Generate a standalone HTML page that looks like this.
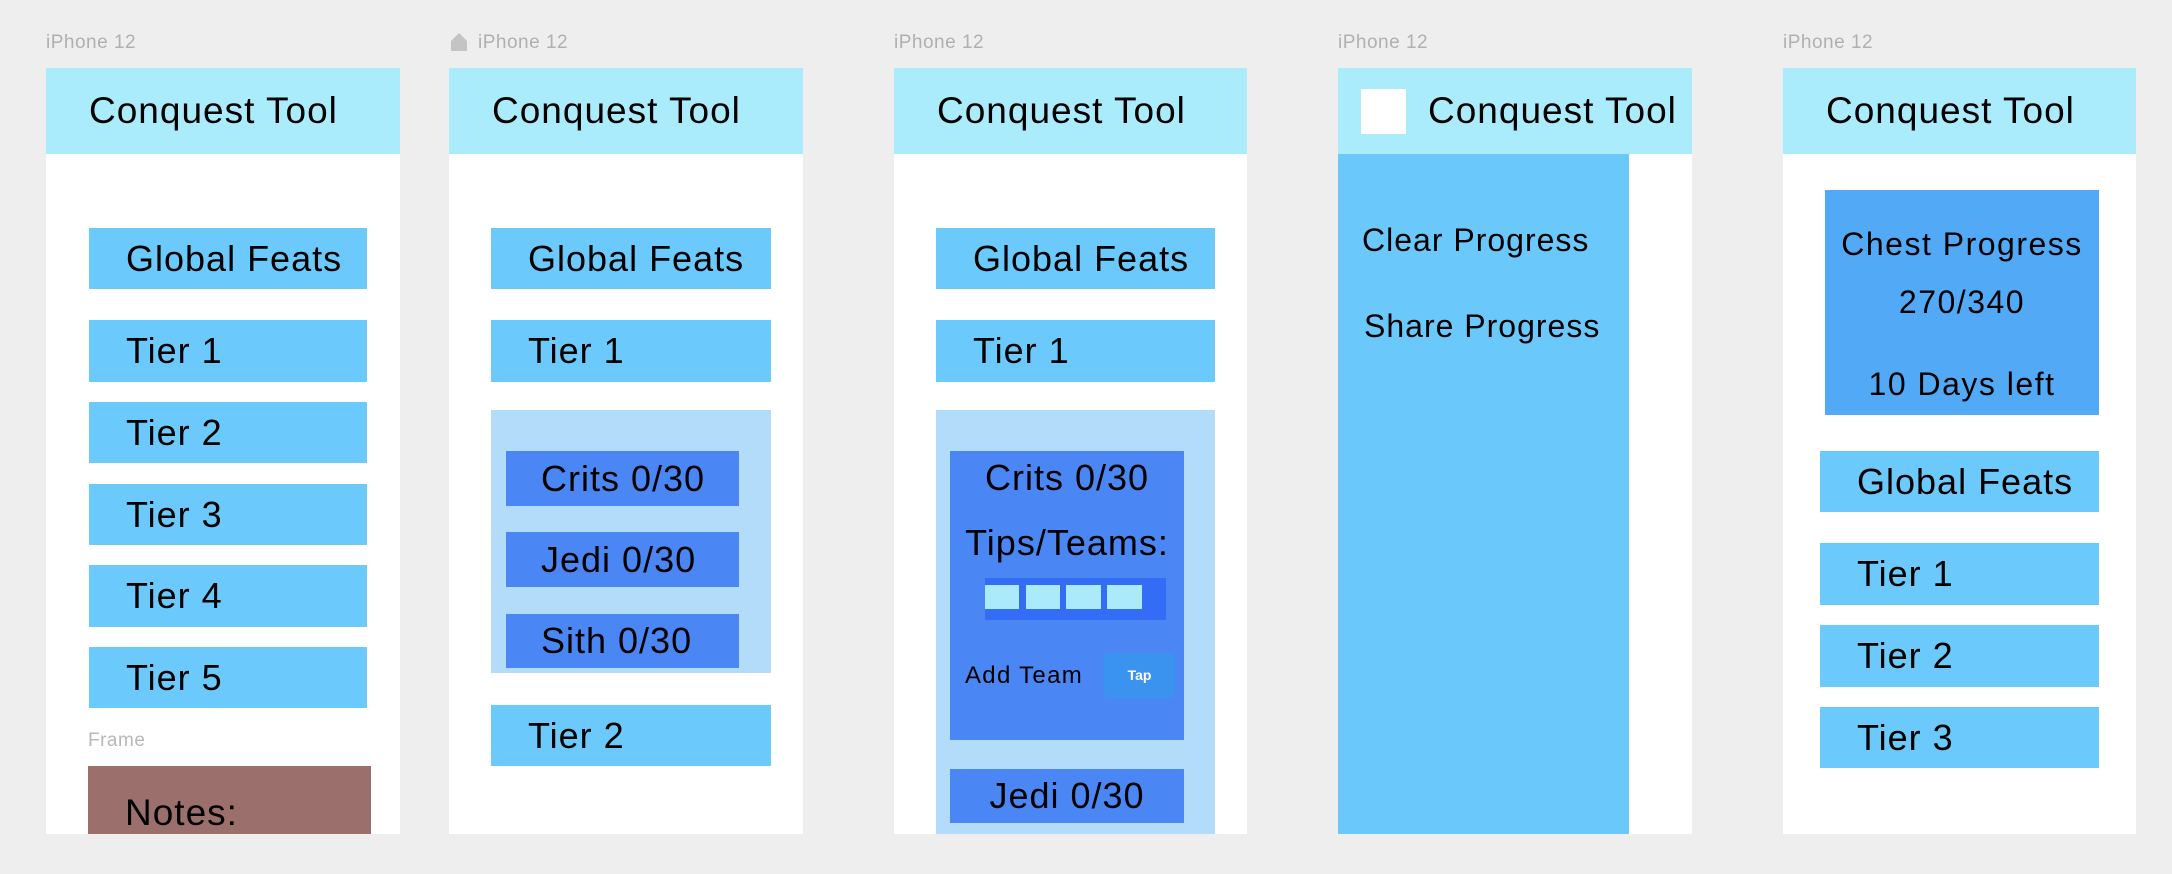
<!DOCTYPE html>
<html><head><meta charset="utf-8"><style>
*{margin:0;padding:0;box-sizing:border-box}
body{width:2172px;height:874px;background:#eeeeee;position:relative;overflow:hidden;font-family:"Liberation Sans",sans-serif;color:#000;letter-spacing:1px}
div{position:absolute}
.lbl{font-size:19px;color:#b0b0b0;top:32px;line-height:22px;letter-spacing:0.5px}
.fr{top:68px;height:766px;background:#fff}
.hd{height:86px;background:#aaecfb;font-size:37px;line-height:86px;white-space:nowrap}
.b{background:#6bc9fb;font-size:36px;white-space:nowrap}
.d{background:#4a87f5;font-size:36px;white-space:nowrap}
</style></head><body>
<!-- Frame 1 -->
<div class="lbl" style="left:46px">iPhone 12</div>
<div class="fr" style="left:46px;width:354px">
<div class="hd" style="left:0;top:0;width:354px;padding-left:43px">Conquest Tool</div>
</div>
<div class="b" style="left:89px;top:228px;width:278px;height:61px;line-height:61px;padding-left:37px">Global Feats</div>
<div class="b" style="left:89px;top:320px;width:278px;height:62px;line-height:62px;padding-left:37px">Tier 1</div>
<div class="b" style="left:89px;top:402px;width:278px;height:61px;line-height:61px;padding-left:37px">Tier 2</div>
<div class="b" style="left:89px;top:484px;width:278px;height:61px;line-height:61px;padding-left:37px">Tier 3</div>
<div class="b" style="left:89px;top:565px;width:278px;height:62px;line-height:62px;padding-left:37px">Tier 4</div>
<div class="b" style="left:89px;top:647px;width:278px;height:61px;line-height:61px;padding-left:37px">Tier 5</div>
<div style="left:88px;top:730px;font-size:19px;color:#b8b8b8;letter-spacing:0.5px">Frame</div>
<div style="left:88px;top:766px;width:283px;height:68px;background:#9b706c;font-size:37px;line-height:37px;padding:28px 0 0 37px;overflow:hidden">Notes:</div>

<!-- Frame 2 -->
<svg style="position:absolute;left:451px;top:33px" width="16" height="18"><path d="M0 18V8L8 0L16 8V18Z" fill="#c4c4c4"/></svg>
<div class="lbl" style="left:478px">iPhone 12</div>
<div class="fr" style="left:449px;width:354px">
<div class="hd" style="left:0;top:0;width:354px;padding-left:43px">Conquest Tool</div>
</div>
<div class="b" style="left:491px;top:228px;width:280px;height:61px;line-height:61px;padding-left:37px">Global Feats</div>
<div class="b" style="left:491px;top:320px;width:280px;height:62px;line-height:62px;padding-left:37px">Tier 1</div>
<div style="left:491px;top:410px;width:280px;height:263px;background:#b3dcfa"></div>
<div class="d" style="left:506px;top:451px;width:233px;height:55px;line-height:55px;padding-left:35px">Crits 0/30</div>
<div class="d" style="left:506px;top:532px;width:233px;height:55px;line-height:55px;padding-left:35px">Jedi 0/30</div>
<div class="d" style="left:506px;top:614px;width:233px;height:54px;line-height:54px;padding-left:35px">Sith 0/30</div>
<div class="b" style="left:491px;top:705px;width:280px;height:61px;line-height:61px;padding-left:37px">Tier 2</div>

<!-- Frame 3 -->
<div class="lbl" style="left:894px">iPhone 12</div>
<div class="fr" style="left:894px;width:353px">
<div class="hd" style="left:0;top:0;width:353px;padding-left:43px">Conquest Tool</div>
</div>
<div class="b" style="left:936px;top:228px;width:279px;height:61px;line-height:61px;padding-left:37px">Global Feats</div>
<div class="b" style="left:936px;top:320px;width:279px;height:62px;line-height:62px;padding-left:37px">Tier 1</div>
<div style="left:936px;top:410px;width:279px;height:424px;background:#b3dcfa"></div>
<div class="d" style="left:950px;top:451px;width:234px;height:289px"></div>
<div style="left:950px;top:456px;width:234px;text-align:center;font-size:36px;line-height:44px">Crits 0/30</div>
<div style="left:950px;top:521px;width:234px;text-align:center;font-size:36px;line-height:44px">Tips/Teams:</div>
<div style="left:985px;top:578px;width:181px;height:42px;background:#336cf5"></div>
<div style="left:985px;top:585px;width:34px;height:24px;background:#aaeafa"></div>
<div style="left:1026px;top:585px;width:34px;height:24px;background:#aaeafa"></div>
<div style="left:1066px;top:585px;width:35px;height:24px;background:#aaeafa"></div>
<div style="left:1107px;top:585px;width:35px;height:24px;background:#aaeafa"></div>
<div style="left:965px;top:662px;font-size:24px;line-height:28px;white-space:nowrap;letter-spacing:1.3px">Add Team</div>
<div style="left:1104px;top:653px;width:71px;height:45px;border-radius:6px;background:#3b93f0;color:#fff;font-weight:bold;font-size:14px;line-height:45px;text-align:center;letter-spacing:0">Tap</div>
<div class="d" style="left:950px;top:769px;width:234px;height:54px;line-height:54px;text-align:center">Jedi 0/30</div>

<!-- Frame 4 -->
<div class="lbl" style="left:1338px">iPhone 12</div>
<div class="fr" style="left:1338px;width:354px">
<div class="hd" style="left:0;top:0;width:354px;padding-left:90px">Conquest Tool</div>
<div style="left:23px;top:21px;width:45px;height:45px;background:#fff"></div>
<div style="left:0;top:86px;width:291px;height:680px;background:#6bc8fb"></div>
</div>
<div style="left:1362px;top:222px;font-size:32px;line-height:36px;white-space:nowrap">Clear Progress</div>
<div style="left:1364px;top:308px;font-size:32px;line-height:36px;white-space:nowrap">Share Progress</div>

<!-- Frame 5 -->
<div class="lbl" style="left:1783px">iPhone 12</div>
<div class="fr" style="left:1783px;width:353px">
<div class="hd" style="left:0;top:0;width:353px;padding-left:43px">Conquest Tool</div>
</div>
<div style="left:1825px;top:190px;width:274px;height:225px;background:#52a9f5;text-align:center;font-size:32px;line-height:36px;letter-spacing:1.5px">
<div style="left:0;top:36px;width:274px">Chest Progress</div>
<div style="left:0;top:94px;width:274px">270/340</div>
<div style="left:0;top:176px;width:274px">10 Days left</div>
</div>
<div class="b" style="left:1820px;top:451px;width:279px;height:61px;line-height:61px;padding-left:37px">Global Feats</div>
<div class="b" style="left:1820px;top:543px;width:279px;height:62px;line-height:62px;padding-left:37px">Tier 1</div>
<div class="b" style="left:1820px;top:625px;width:279px;height:62px;line-height:62px;padding-left:37px">Tier 2</div>
<div class="b" style="left:1820px;top:707px;width:279px;height:61px;line-height:61px;padding-left:37px">Tier 3</div>
</body></html>
